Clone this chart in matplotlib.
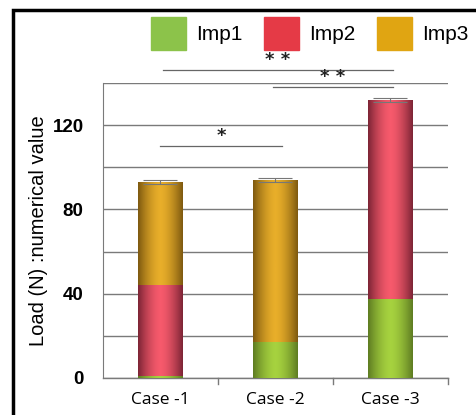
import numpy as np
import matplotlib
matplotlib.use('Agg')
import matplotlib.pyplot as plt
from matplotlib.colors import LinearSegmentedColormap
from matplotlib.patches import Rectangle, Patch

# data
cases = ['Case -1', 'Case -2', 'Case -3']
imp1 = [1.0, 17.0, 37.5]
imp2 = [43.0, 0.0, 94.5]
imp3 = [49.0, 77.0, 0.0]
err = [0.8, 0.8, 1.0]
yticks = [0, 40, 80, 120]

# significance brackets: (x start, x end, level, label)
sig = [(0.0, 1.06, 110, '*'), (0.02, 2.02, 146, '* *'), (0.98, 2.02, 138, '* *')]

# (edge colour, centre colour) for the cylinder look
shades = {
    'Imp1': ('#5f7d22', '#a6d23f'),
    'Imp2': ('#7e2536', '#f65a6c'),
    'Imp3': ('#7f5a10', '#e8ae2a'),
}
legend_colors = {'Imp1': '#8cc34a', 'Imp2': '#e53a46', 'Imp3': '#e0a512'}

fig = plt.figure(figsize=(4.77, 4.15), dpi=100)
ax = fig.add_axes([0.2159, 0.0892, 0.7233, 0.7108])

x = np.arange(len(cases))
width = 0.39
grad = np.abs(np.linspace(-1, 1, 64)) ** 1.6
grad = 1 - grad

bottom = np.zeros(len(cases))
for name, vals in [('Imp1', imp1), ('Imp2', imp2), ('Imp3', imp3)]:
    bars = ax.bar(x, vals, width, bottom=bottom, color=legend_colors[name],
                  linewidth=0, zorder=3)
    cmap = LinearSegmentedColormap.from_list(name, list(shades[name]))
    for b in bars:
        if b.get_height() <= 0:
            continue
        x0, y0 = b.get_x(), b.get_y()
        im = ax.imshow(grad[np.newaxis, :], cmap=cmap, aspect='auto',
                       extent=(x0, x0 + b.get_width(), y0, y0 + b.get_height()),
                       zorder=3.5, vmin=0, vmax=1)
        im.set_clip_path(b)
    bottom += np.array(vals)

ax.errorbar(x, bottom, yerr=err, fmt='none', ecolor='#777777',
            elinewidth=0.8, capsize=12, capthick=0.8, zorder=4)

for x0, x1, lev, lab in sig:
    ax.plot([x0, x1], [lev, lev], color='#666666', lw=0.9, clip_on=False, zorder=5)
    ax.text((x0 + x1) / 2, lev + 0.6, lab, ha='center', va='bottom',
            fontsize=13, fontweight='bold', color='#222222', clip_on=False,
            family='DejaVu Sans', zorder=20)

ax.set_xlim(-0.5, 2.5)
ax.set_ylim(0, 140)
ax.set_yticks(np.arange(0, 141, 20))
ax.set_yticklabels([str(v) if v in yticks else '' for v in np.arange(0, 141, 20)],
                   fontsize=13.5, fontweight='bold', family='Liberation Sans')
ax.yaxis.grid(True, color='#7a7a7a', lw=1.0)
ax.set_axisbelow(True)
ax.tick_params(axis='y', length=0, pad=14)

ax.set_xticks(x)
ax.set_xticklabels(cases, fontsize=12.5, family='Open Sans')
ax.tick_params(axis='x', length=0, pad=10)
for bx in [0.5, 1.5, 2.5]:
    ax.plot([bx, bx], [0, -3], color='#7a7a7a', lw=1, clip_on=False)

for s in ['top', 'right']:
    ax.spines[s].set_visible(False)
ax.spines['left'].set_color('#7a7a7a')
ax.spines['bottom'].set_color('#7a7a7a')
ax.spines['bottom'].set_linewidth(1.0)

ax.set_ylabel('Load (N) :numerical value', fontsize=14.5, family='Liberation Sans')
ax.yaxis.set_label_coords(-0.16, 0.5)

handles = [Patch(color=legend_colors[n]) for n in ['Imp1', 'Imp2', 'Imp3']]
leg = fig.legend(handles, ['Imp1', 'Imp2', 'Imp3'], loc='upper left',
                 bbox_to_anchor=(0.282, 1.0), ncol=3, frameon=False,
                 prop={'family': 'Liberation Sans', 'size': 15},
                 handlelength=1.65, handleheight=2.05, columnspacing=1.05,
                 handletextpad=0.5, borderpad=0.3)
leg.set_zorder(1)

# black frame around the figure (right/bottom run off the image)
fig.patches.append(Rectangle((13 / 477, -0.1), 1.2, 1 - 10 / 415 + 0.1,
                             transform=fig.transFigure, fill=False,
                             edgecolor='black', lw=2.5, zorder=10))

fig.savefig('out.png', dpi=100)
